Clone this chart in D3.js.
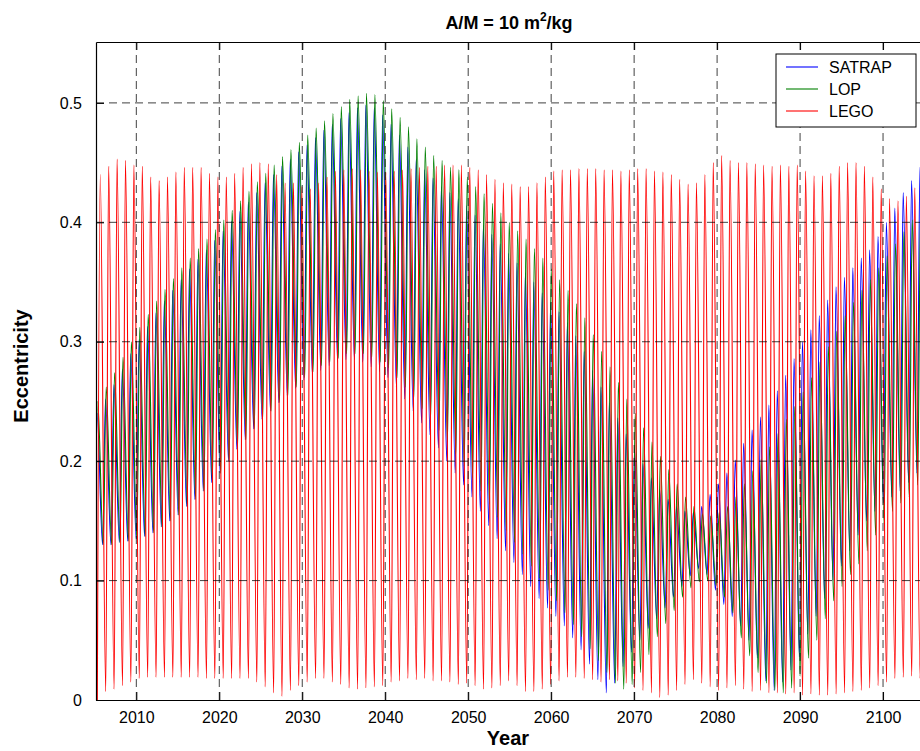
<!DOCTYPE html>
<html><head><meta charset="utf-8">
<script src="https://cdn.jsdelivr.net/npm/d3@7/dist/d3.min.js"></script>
<style>
body{margin:0;background:#fff}
svg{display:block}
text{font-family:"Liberation Sans",Arial,Helvetica,sans-serif;fill:#000}
</style>
</head><body>
<svg id="chart" width="920" height="751"></svg>
<script>
// ---------------- data ----------------
const xTickYears = [2010, 2020, 2030, 2040, 2050, 2060, 2070, 2080, 2090, 2100];
const yTickValues = [0, 0.1, 0.2, 0.3, 0.4, 0.5];
const yTickLabels = ["0", "0.1", "0.2", "0.3", "0.4", "0.5"];
const seriesNames = ["SATRAP", "LOP", "LEGO"];

// one oscillation per cycle (period in years); first trough epoch per series
const cyclePeriod = 1.012;
const firstTrough = { SATRAP: 2004.92, LOP: 2005.0, LEGO: 2005.3 };
const peakPhase = 0.35;

// per-cycle peak (max) and trough (min) eccentricity
const satrapPeaks = [
  0.24, 0.252, 0.264, 0.277, 0.29, 0.302, 0.313, 0.324, 0.334, 0.343,
  0.352, 0.361, 0.369, 0.377, 0.385, 0.393, 0.401, 0.409, 0.417, 0.425,
  0.433, 0.44, 0.447, 0.453, 0.459, 0.465, 0.471, 0.477, 0.482, 0.487,
  0.492, 0.496, 0.498, 0.496, 0.49, 0.482, 0.473, 0.463, 0.453, 0.444,
  0.437, 0.43, 0.425, 0.42, 0.414, 0.406, 0.398, 0.39, 0.382, 0.374,
  0.366, 0.358, 0.35, 0.341, 0.333, 0.325, 0.316, 0.305, 0.292, 0.276,
  0.262, 0.249, 0.236, 0.223, 0.21, 0.198, 0.186, 0.176, 0.168, 0.162,
  0.158, 0.157, 0.162, 0.172, 0.181, 0.19, 0.201, 0.215, 0.226, 0.237,
  0.247, 0.259, 0.272, 0.286, 0.3, 0.31, 0.322, 0.335, 0.346, 0.354,
  0.362, 0.37, 0.377, 0.388, 0.4, 0.412, 0.425, 0.435, 0.446, 0.455];
const satrapTroughs = [
  0.13, 0.13, 0.13, 0.132, 0.133, 0.135, 0.137, 0.14, 0.145, 0.15,
  0.155, 0.162, 0.168, 0.175, 0.182, 0.19, 0.2, 0.21, 0.218, 0.227,
  0.235, 0.242, 0.249, 0.255, 0.261, 0.268, 0.272, 0.276, 0.28, 0.283,
  0.285, 0.285, 0.283, 0.279, 0.275, 0.27, 0.262, 0.252, 0.242, 0.232,
  0.222, 0.211, 0.2, 0.19, 0.18, 0.17, 0.158, 0.146, 0.135, 0.125,
  0.115, 0.105, 0.095, 0.085, 0.077, 0.07, 0.062, 0.052, 0.042, 0.03,
  0.017, 0.006, 0.014, 0.028, 0.04, 0.05, 0.06, 0.068, 0.077, 0.086,
  0.095, 0.104, 0.11, 0.105, 0.092, 0.08, 0.07, 0.062, 0.05, 0.035,
  0.016, 0.008, 0.015, 0.025, 0.036, 0.055, 0.07, 0.085, 0.1, 0.112,
  0.125, 0.138, 0.15, 0.158, 0.165, 0.17, 0.175, 0.182, 0.19, 0.2];
const lopPeaks = [
  0.25, 0.262, 0.274, 0.287, 0.3, 0.312, 0.323, 0.334, 0.344, 0.353,
  0.362, 0.37, 0.378, 0.386, 0.394, 0.402, 0.41, 0.418, 0.426, 0.434,
  0.441, 0.448, 0.455, 0.461, 0.467, 0.473, 0.479, 0.485, 0.491, 0.497,
  0.503, 0.506, 0.508, 0.507, 0.502, 0.495, 0.488, 0.48, 0.47, 0.463,
  0.456, 0.452, 0.446, 0.444, 0.438, 0.43, 0.424, 0.416, 0.408, 0.4,
  0.393, 0.386, 0.378, 0.37, 0.361, 0.352, 0.343, 0.332, 0.32, 0.306,
  0.292, 0.279, 0.266, 0.252, 0.24, 0.228, 0.216, 0.204, 0.193, 0.181,
  0.17, 0.162, 0.156, 0.154, 0.157, 0.162, 0.17, 0.181, 0.192, 0.202,
  0.212, 0.223, 0.235, 0.246, 0.258, 0.27, 0.283, 0.296, 0.309, 0.322,
  0.333, 0.343, 0.352, 0.362, 0.372, 0.382, 0.392, 0.402, 0.412, 0.421];
const lopTroughs = [
  0.13, 0.13, 0.13, 0.132, 0.133, 0.135, 0.137, 0.14, 0.145, 0.15,
  0.155, 0.162, 0.168, 0.175, 0.182, 0.19, 0.2, 0.21, 0.218, 0.227,
  0.235, 0.242, 0.249, 0.255, 0.262, 0.27, 0.275, 0.28, 0.283, 0.286,
  0.29, 0.29, 0.29, 0.287, 0.283, 0.278, 0.27, 0.262, 0.253, 0.244,
  0.236, 0.226, 0.216, 0.206, 0.196, 0.186, 0.175, 0.164, 0.153, 0.142,
  0.132, 0.122, 0.112, 0.102, 0.092, 0.083, 0.073, 0.063, 0.053, 0.043,
  0.033, 0.023, 0.014, 0.009, 0.013, 0.023, 0.038, 0.053, 0.064, 0.075,
  0.086, 0.094, 0.099, 0.1, 0.096, 0.086, 0.073, 0.052, 0.037, 0.023,
  0.014, 0.008, 0.006, 0.01, 0.02, 0.035, 0.05, 0.068, 0.083, 0.095,
  0.105, 0.114, 0.125, 0.138, 0.148, 0.158, 0.165, 0.17, 0.18, 0.185];
const legoPeaks = [
  0.44, 0.447, 0.453, 0.452, 0.448, 0.447, 0.438, 0.435, 0.438, 0.442,
  0.446, 0.446, 0.446, 0.441, 0.438, 0.438, 0.441, 0.446, 0.449, 0.45,
  0.449, 0.44, 0.433, 0.433, 0.43, 0.428, 0.433, 0.438, 0.443, 0.444,
  0.445, 0.444, 0.443, 0.442, 0.442, 0.443, 0.444, 0.445, 0.446, 0.447,
  0.447, 0.448, 0.448, 0.448, 0.446, 0.444, 0.44, 0.436, 0.433, 0.432,
  0.43, 0.43, 0.433, 0.438, 0.443, 0.444, 0.444, 0.445, 0.445, 0.445,
  0.444, 0.444, 0.443, 0.444, 0.445, 0.445, 0.443, 0.442, 0.44, 0.436,
  0.432, 0.433, 0.44, 0.45, 0.456, 0.452, 0.45, 0.45, 0.449, 0.448,
  0.447, 0.448, 0.447, 0.448, 0.443, 0.439, 0.439, 0.441, 0.447, 0.45,
  0.45, 0.447, 0.438, 0.428, 0.42, 0.418, 0.422, 0.429, 0.432, 0.435];
const legoTroughs = [
  0.0, 0.007, 0.009, 0.012, 0.015, 0.018, 0.019, 0.019, 0.019, 0.019,
  0.019, 0.019, 0.019, 0.018, 0.018, 0.018, 0.018, 0.018, 0.018, 0.015,
  0.011, 0.006, 0.003, 0.008, 0.012, 0.015, 0.018, 0.018, 0.015, 0.013,
  0.01, 0.009, 0.01, 0.011, 0.012, 0.015, 0.016, 0.018, 0.017, 0.018,
  0.016, 0.016, 0.015, 0.013, 0.014, 0.012, 0.009, 0.01, 0.012, 0.016,
  0.012, 0.007, 0.007, 0.009, 0.013, 0.016, 0.019, 0.019, 0.018, 0.017,
  0.015, 0.017, 0.016, 0.014, 0.01, 0.008, 0.006, 0.002, 0.004, 0.008,
  0.013, 0.017, 0.014, 0.011, 0.008, 0.01, 0.012, 0.009, 0.007, 0.008,
  0.006, 0.006, 0.005, 0.006, 0.004, 0.005, 0.004, 0.004, 0.005, 0.006,
  0.007, 0.008, 0.01, 0.012, 0.015, 0.018, 0.019, 0.02, 0.018, 0.017];

const seriesColors = { SATRAP: "#0000ff", LOP: "#008000", LEGO: "#ff0000" };
const seriesData = {
  SATRAP: { peaks: satrapPeaks, troughs: satrapTroughs },
  LOP: { peaks: lopPeaks, troughs: lopTroughs },
  LEGO: { peaks: legoPeaks, troughs: legoTroughs }
};

// ---------------- layout ----------------
const svg = d3.select("#chart");
const plot = { left: 96, top: 42, bottom: 700, right: 966 };
const x = d3.scaleLinear().domain([2005.14, 2110]).range([plot.left, plot.right]);
const y = d3.scaleLinear().domain([0, 0.551]).range([plot.bottom, plot.top]);

svg.append("defs").append("clipPath").attr("id", "clip")
  .append("rect").attr("x", plot.left).attr("y", plot.top)
  .attr("width", plot.right - plot.left).attr("height", plot.bottom - plot.top);

// series
function buildPoints(name) {
  const d = seriesData[name], pts = [];
  for (let k = 0; k < d.peaks.length; k++) {
    const t0 = firstTrough[name] + k * cyclePeriod;
    pts.push([t0, d.troughs[k]]);
    pts.push([t0 + peakPhase * cyclePeriod, d.peaks[k]]);
  }
  return pts;
}
const line = d3.line().x(d => x(d[0])).y(d => y(d[1])).curve(d3.curveMonotoneX);
const gData = svg.append("g").attr("clip-path", "url(#clip)");
seriesNames.forEach(name => {
  gData.append("path").datum(buildPoints(name))
    .attr("fill", "none").attr("stroke", seriesColors[name])
    .attr("stroke-width", 1.1).attr("d", line);
});

// grid (dashed, drawn on top)
const gGrid = svg.append("g").attr("stroke", "#000").attr("stroke-opacity", 0.75)
  .attr("stroke-width", 1).attr("stroke-dasharray", "8,5");
xTickYears.forEach(v => {
  gGrid.append("line").attr("x1", x(v)).attr("x2", x(v))
    .attr("y1", plot.top).attr("y2", plot.bottom);
});
yTickValues.filter(v => v > 0).forEach(v => {
  gGrid.append("line").attr("x1", plot.left).attr("x2", plot.right)
    .attr("y1", y(v)).attr("y2", y(v));
});

// axes (MATLAB-style inward ticks)
const xAxisB = d3.axisBottom(x).tickValues(xTickYears).tickFormat(d3.format("d"))
  .tickSizeInner(-8).tickSizeOuter(0).tickPadding(12);
const xAxisT = d3.axisTop(x).tickValues(xTickYears).tickFormat("")
  .tickSizeInner(-8).tickSizeOuter(0);
const yAxisL = d3.axisLeft(y).tickValues(yTickValues)
  .tickFormat((d, i) => yTickLabels[i]).tickSizeInner(-8).tickSizeOuter(0).tickPadding(14);

function styleAxis(g) {
  g.select(".domain").attr("stroke", "#000").attr("stroke-width", 1.2);
  g.selectAll(".tick line").attr("stroke", "#000").attr("stroke-width", 1);
  g.selectAll(".tick text").attr("font-size", 16)
    .attr("font-family", '"Liberation Sans",Arial,sans-serif').attr("fill", "#000");
}
svg.append("g").attr("transform", `translate(0,${plot.bottom})`).call(xAxisB).call(styleAxis);
svg.append("g").attr("transform", `translate(0,${plot.top})`).call(xAxisT).call(styleAxis);
svg.append("g").attr("transform", `translate(${plot.left},0)`).call(yAxisL).call(styleAxis);

// titles
const title = svg.append("text").attr("x", 509).attr("y", 29)
  .attr("text-anchor", "middle").attr("font-size", 18).attr("font-weight", "bold");
title.append("tspan").text("A/M = 10 m");
title.append("tspan").attr("dy", -8).attr("font-size", 12).text("2");
title.append("tspan").attr("dy", 8).text("/kg");

svg.append("text").attr("x", 508).attr("y", 745).attr("text-anchor", "middle")
  .attr("font-size", 20).attr("font-weight", "bold").text("Year");
svg.append("text").attr("transform", "translate(28,366) rotate(-90)")
  .attr("text-anchor", "middle").attr("font-size", 20).attr("font-weight", "bold")
  .text("Eccentricity");

// legend
const leg = svg.append("g");
leg.append("rect").attr("x", 776).attr("y", 54).attr("width", 140).attr("height", 73)
  .attr("fill", "#fff").attr("stroke", "#000").attr("stroke-width", 1);
seriesNames.forEach((name, i) => {
  const ly = 67 + i * 22;
  leg.append("line").attr("x1", 786).attr("x2", 818).attr("y1", ly).attr("y2", ly)
    .attr("stroke", seriesColors[name]).attr("stroke-width", 1.1);
  leg.append("text").attr("x", 829).attr("y", ly + 6).attr("font-size", 16).text(name);
});
</script>
</body></html>
